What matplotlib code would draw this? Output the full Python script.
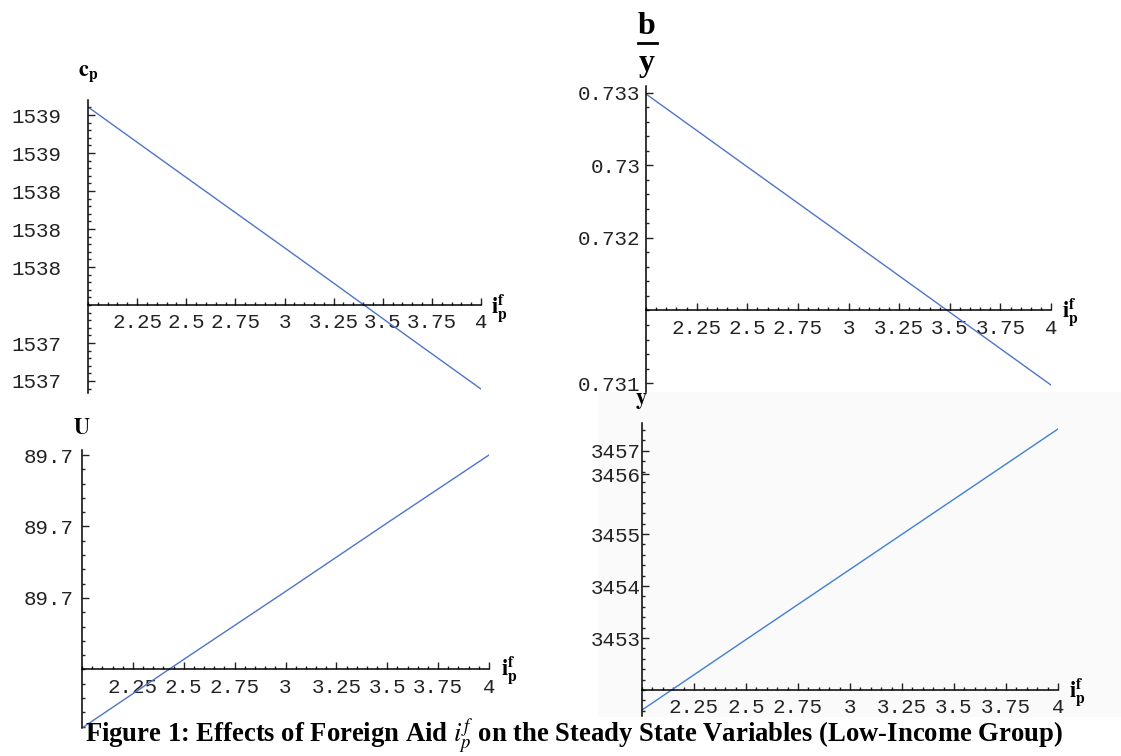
import numpy as np
import matplotlib
matplotlib.use("Agg")
import matplotlib.pyplot as plt
from matplotlib.ticker import FixedLocator, MultipleLocator
from matplotlib.lines import Line2D
from matplotlib.patches import Rectangle

# ---- data ---------------------------------------------------------------
aid = [2.0, 2.5, 3.0, 3.5, 4.0]

cp_vals = [1538.803, 1538.339, 1537.877, 1537.411, 1536.947]
by_vals = [0.732993, 0.732491, 0.731990, 0.731488, 0.730986]
u_vals = [89.69918, 89.70014, 89.70109, 89.70205, 89.70300]
y_vals = [3451.615, 3452.970, 3454.320, 3455.670, 3457.020]

x_ticks = [2.25, 2.5, 2.75, 3.0, 3.25, 3.5, 3.75, 4.0]
x_labels = ["2.25", "2.5", "2.75", "3", "3.25", "3.5", "3.75", "4"]

cp_ticks = [1538.75, 1538.5, 1538.25, 1538.0, 1537.75, 1537.25, 1537.0]
cp_labels = ["1539", "1539", "1538", "1538", "1538", "1537", "1537"]

by_ticks = [0.7330, 0.7325, 0.7320, 0.7310]
by_labels = ["0.733", "0.73", "0.732", "0.731"]

u_ticks = [89.703, 89.702, 89.701]
u_labels = ["89.7", "89.7", "89.7"]

y_ticks = [3453, 3454, 3455, 3456.15, 3456.6]
y_labels = ["3453", "3454", "3455", "3456", "3457"]

# ---- figure setup ---------------------------------------------------------
W, H = 1121, 756
plt.rcParams["mathtext.fontset"] = "stix"
fig = plt.figure(figsize=(W / 100, H / 100), dpi=100)
line_color = "#4f74c9"
tick_font = dict(family="Liberation Mono", size=15)


def fx(px):
    return px / W


def fy(py):
    return 1 - py / H


# faint grey background behind the lower right plot
fig.add_artist(Rectangle((fx(598), fy(716)), fx(1121) - fx(598), fy(392) - fy(716),
                         transform=fig.transFigure, color="#fafafa", zorder=0))


def add_panel(box, yvals, ylim, y0, yticks, ylabels, ystep, ypad, color=line_color):
    left, top, right, bottom = box
    ax = fig.add_axes([fx(left), fy(bottom), fx(right) - fx(left), fy(top) - fy(bottom)])
    ax.patch.set_alpha(0)
    ax.plot(aid, yvals, color=color, lw=1.0)
    ax.set_xlim(2, 4)
    ax.set_ylim(*ylim)
    ax.spines["top"].set_visible(False)
    ax.spines["right"].set_visible(False)
    ax.spines["bottom"].set_position(("data", y0))
    for s in ("left", "bottom"):
        ax.spines[s].set_linewidth(1.1)
    ax.xaxis.set_major_locator(FixedLocator(x_ticks))
    ax.set_xticklabels(x_labels, **tick_font)
    ax.xaxis.set_minor_locator(MultipleLocator(0.05))
    ax.yaxis.set_major_locator(FixedLocator(yticks))
    ax.set_yticklabels(ylabels, **tick_font)
    ax.yaxis.set_minor_locator(MultipleLocator(ystep))
    ax.tick_params(which="both", direction="in", width=1.0, colors="#222222")
    ax.tick_params(which="major", length=5)
    ax.tick_params(which="minor", length=2.5)
    ax.tick_params(axis="x", which="major", pad=6)
    ax.tick_params(axis="y", which="major", pad=ypad)
    return ax


add_panel((88, 100, 481, 393), cp_vals, (1536.921, 1538.849), 1537.5,
          cp_ticks, cp_labels, 0.05, 19)
add_panel((646, 86, 1051, 392), by_vals, (0.730938, 0.733048), 0.7315,
          by_ticks, by_labels, 0.0001, 4)
add_panel((82, 450, 489, 728), u_vals, (89.69918, 89.70307), 89.700,
          u_ticks, u_labels, 0.0002, 6)
add_panel((642, 423, 1058, 716), y_vals, (3451.5, 3457.135), 3452,
          y_ticks, y_labels, 0.2, 1, color="#3f7fd6")

# ---- axis variable labels -----------------------------------------------
lab = dict(ha="center", va="center", fontsize=16)
xlab = r"$\mathbf{i}_{\mathbf{p}}^{\mathbf{f}}$"
fig.text(fx(499), fy(308), xlab, **lab)
fig.text(fx(1070), fy(312), xlab, **lab)
fig.text(fx(509), fy(670), xlab, **lab)
fig.text(fx(1077), fy(692), xlab, **lab)

fig.text(fx(88), fy(74), r"$\mathbf{c}_{\mathbf{p}}$", **lab)
fig.text(fx(82), fy(428), r"$\mathbf{U}$", **lab)
fig.text(fx(641), fy(401), r"$\mathbf{y}$", **lab)

fig.text(fx(647), fy(26), "b", family="Liberation Serif", weight="bold",
         fontsize=23, ha="center", va="center")
fig.add_artist(Line2D([fx(638), fx(657)], [fy(43), fy(43)], color="black",
                      lw=2, transform=fig.transFigure))
fig.text(fx(647), fy(64), "y", family="Liberation Serif", weight="bold",
         fontsize=23, ha="center", va="center")

# ---- caption ------------------------------------------------------------
fig.text(fx(574), fy(736),
         r"Figure 1: Effects of Foreign Aid $i_p^f$ on the Steady State Variables (Low-Income Group)",
         family="Liberation Serif", weight="bold", fontsize=19.2, ha="center", va="center")

fig.savefig("out.png", dpi=100)
